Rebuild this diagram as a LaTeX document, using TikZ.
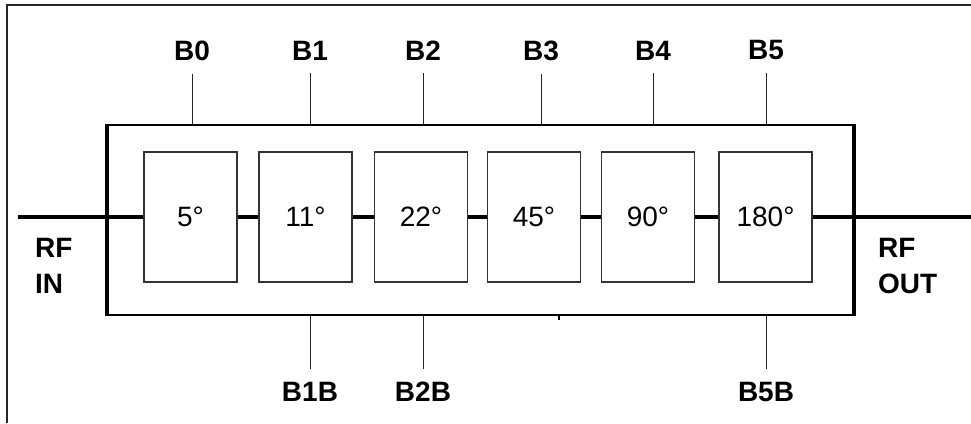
\documentclass[tikz,border=0pt]{standalone}
\usepackage{fontspec}
\setmainfont{Liberation Sans}
\begin{document}
\begin{tikzpicture}[x=1pt,y=-1pt,
  lbl/.style={font=\bfseries\fontsize{28}{36}\selectfont, inner sep=0pt, align=left},
  degbox/.style={draw=black!80, line width=1.3pt, minimum width=93pt, minimum height=130pt, inner sep=0pt, font=\fontsize{28}{30}\selectfont},
  thinln/.style={line width=1pt, draw=black!85},
  rfln/.style={line width=3.6pt},
  chipbox/.style={draw, line width=2pt, minimum width=745pt, minimum height=190pt, inner sep=0pt}]
\useasboundingbox (0,0) rectangle (971,423);
% frame
\draw[line width=1.2pt, draw=black!85] (7,423) -- (7,5) -- (971,5);
% chip
\node[chipbox] (chip) at (480.5,220) {};
\draw[line width=3.2pt] (chip.north west) -- (chip.south west);
\draw[line width=3.2pt] (chip.north east) -- (chip.south east);
% phase boxes
\node[degbox] (b0) at (190.5,217) {5°};
\node[degbox] (b1) at (305.5,217) {11°};
\node[degbox] (b2) at (421,217) {22°};
\node[degbox] (b3) at (534,217) {45°};
\node[degbox] (b4) at (648,217) {90°};
\node[degbox] (b5) at (765.5,217) {180°};
% RF path
\coordinate (rfa) at (18,217);
\coordinate (rfb) at (971,217);
\draw[rfln] (rfa) -- (b0.west);
\draw[rfln] (b0.east) -- (b1.west);
\draw[rfln] (b1.east) -- (b2.west);
\draw[rfln] (b2.east) -- (b3.west);
\draw[rfln] (b3.east) -- (b4.west);
\draw[rfln] (b4.east) -- (b5.west);
\draw[rfln] (b5.east) -- (rfb);
% RF labels
\node[lbl, anchor=north west] (rfin) at (35,238) {RF\\IN};
\node[lbl, anchor=north west] (rfout) at (878,238) {RF\\OUT};
% top control labels
\foreach \n/\x/\t in {t0/192/B0, t1/310/B1, t2/423/B2, t3/541/B3, t4/653/B4, t5/766/B5}{
  \node[lbl] (\n) at (\x,50.5) {\t};
  \draw[thinln] ([yshift=-13pt]\n.south) -- (\n.south |- chip.north);
}
% bottom control labels
\foreach \n/\x/\t in {u1/310/B1B, u2/423/B2B, u5/766/B5B}{
  \node[lbl] (\n) at (\x,392) {\t};
  \draw[thinln] ([yshift=13pt]\n.north) -- (\n.north |- chip.south);
}
% small tick
\coordinate (tk) at (559,320);
\draw[line width=1.2pt] (tk |- chip.south) -- (tk);
\end{tikzpicture}
\end{document}
